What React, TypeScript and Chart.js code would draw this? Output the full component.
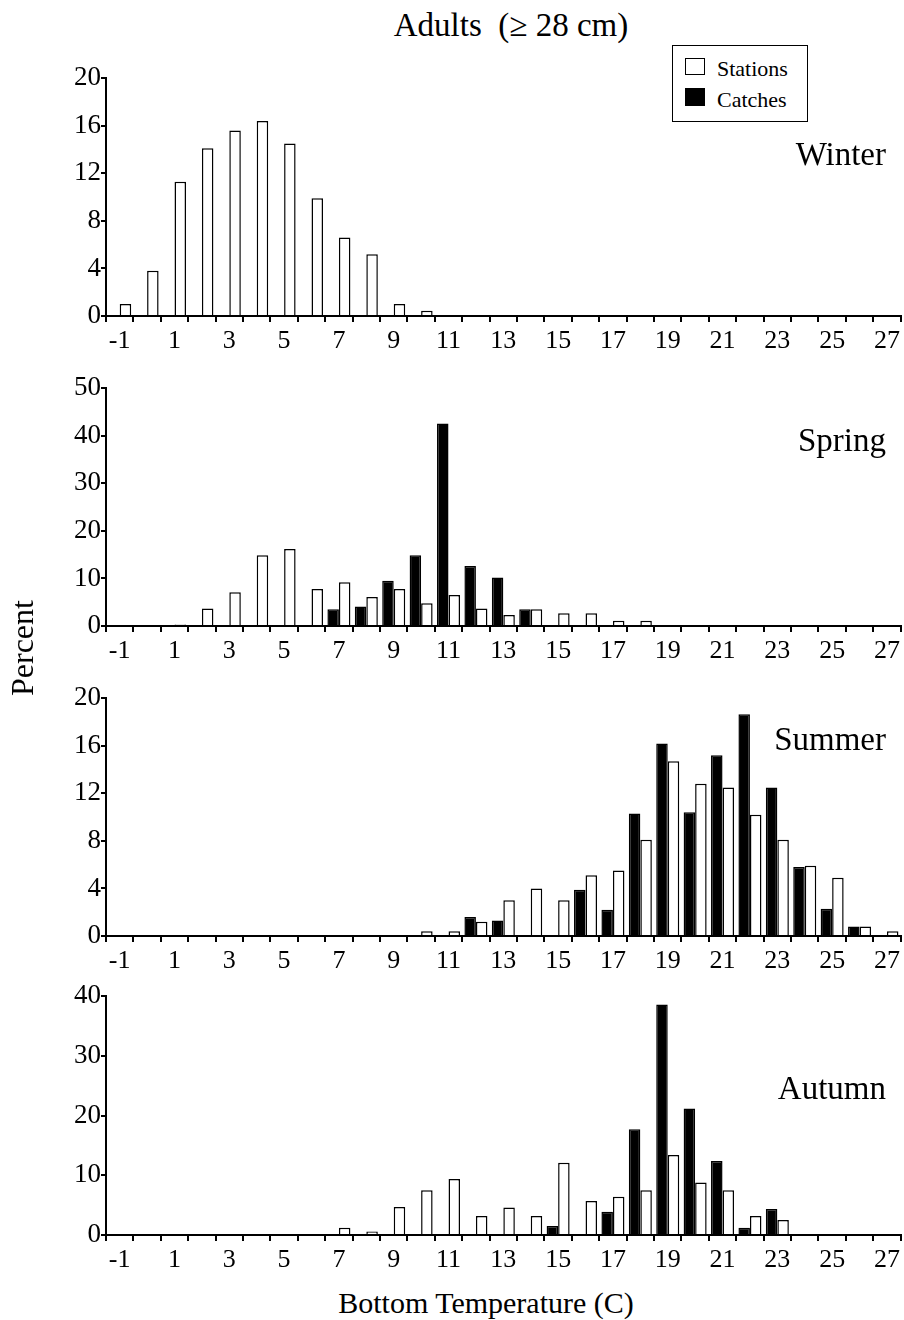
import React, { useEffect, useRef } from "react";
import { Chart, registerables } from "chart.js";

Chart.register(...registerables);

const temperatures = [
  "-1", "0", "1", "2", "3", "4", "5", "6", "7", "8", "9", "10", "11", "12", "13",
  "14", "15", "16", "17", "18", "19", "20", "21", "22", "23", "24", "25", "26", "27",
];

const winterStations = [1.0, 3.8, 11.3, 14.1, 15.6, 16.4, 14.5, 9.9, 6.6, 5.2, 1.0, 0.45, 0, 0, 0, 0, 0, 0, 0, 0, 0, 0, 0, 0, 0, 0, 0, 0, 0];
const winterCatches = [0, 0, 0, 0, 0, 0, 0, 0, 0, 0, 0, 0, 0, 0, 0, 0, 0, 0, 0, 0, 0, 0, 0, 0, 0, 0, 0, 0, 0];

const springStations = [0, 0, 0.3, 3.7, 7.1, 14.9, 16.2, 7.8, 9.2, 6.1, 7.8, 4.8, 6.5, 3.7, 2.3, 3.5, 2.7, 2.7, 1.1, 1.1, 0, 0, 0, 0, 0, 0, 0, 0, 0];
const springCatches = [0, 0, 0, 0, 0, 0, 0, 0, 3.5, 4.1, 9.5, 14.9, 42.6, 12.6, 10.2, 3.5, 0, 0, 0, 0, 0, 0, 0, 0, 0, 0, 0, 0, 0];

const summerStations = [0, 0, 0, 0, 0, 0, 0, 0, 0, 0, 0, 0.4, 0.4, 1.2, 3.0, 4.0, 3.0, 5.1, 5.5, 8.1, 14.7, 12.8, 12.5, 10.2, 8.1, 5.9, 4.9, 0.8, 0.4];
const summerCatches = [0, 0, 0, 0, 0, 0, 0, 0, 0, 0, 0, 0, 0, 1.6, 1.3, 0, 0, 3.9, 2.2, 10.3, 16.2, 10.4, 15.2, 18.65, 12.5, 5.8, 2.3, 0.8, 0];

const autumnStations = [0, 0, 0, 0, 0, 0, 0, 0, 1.2, 0.6, 4.7, 7.5, 9.4, 3.2, 4.6, 3.2, 12.1, 5.7, 6.4, 7.5, 13.4, 8.8, 7.5, 3.2, 2.5, 0, 0, 0, 0];
const autumnCatches = [0, 0, 0, 0, 0, 0, 0, 0, 0, 0, 0, 0, 0, 0, 0, 0, 1.5, 0, 3.9, 17.7, 38.6, 21.2, 12.4, 1.2, 4.35, 0, 0, 0, 0];

const FONT = "'Liberation Serif', 'Times New Roman', serif";
const PAGE_W = 904;
const PLOT_LEFT = 106;
const PLOT_RIGHT = 901;
const PAD_TOP = 16;
const X_AXIS_H = 50;

type PanelProps = {
  stations: number[];
  catches: number[];
  yMax: number;
  yStep: number;
  plotTop: number;
  plotBottom: number;
};

function Panel({ stations, catches, yMax, yStep, plotTop, plotBottom }: PanelProps) {
  const ref = useRef<HTMLCanvasElement | null>(null);
  const height = PAD_TOP + (plotBottom - plotTop) + X_AXIS_H;

  useEffect(() => {
    if (!ref.current) return;
    const chart = new Chart(ref.current, {
      type: "bar",
      data: {
        labels: temperatures,
        datasets: [
          {
            label: "Catches",
            data: catches,
            backgroundColor: "#000",
            borderColor: "#000",
            borderWidth: 1.5,
            categoryPercentage: 0.84,
            barPercentage: 1.0,
          },
          {
            label: "Stations",
            data: stations,
            backgroundColor: "#fff",
            borderColor: "#000",
            borderWidth: 1.5,
            categoryPercentage: 0.84,
            barPercentage: 1.0,
          },
        ],
      },
      options: {
        animation: false,
        responsive: false,
        maintainAspectRatio: false,
        layout: { padding: { top: PAD_TOP, right: PAGE_W - PLOT_RIGHT, left: 0, bottom: 0 } },
        plugins: { legend: { display: false }, tooltip: { enabled: false }, title: { display: false } },
        scales: {
          x: {
            type: "category",
            offset: true,
            grid: {
              offset: true,
              drawOnChartArea: false,
              drawTicks: true,
              tickLength: 6,
              color: "#000",
              lineWidth: 2,
            },
            border: { display: true, color: "#000", width: 2 },
            ticks: {
              color: "#000",
              font: { family: FONT, size: 26 },
              autoSkip: false,
              maxRotation: 0,
              minRotation: 0,
              padding: 4,
              callback: (_v: any, i: number) => (i % 2 === 0 ? temperatures[i] : ""),
            },
            afterFit: (scale: any) => {
              scale.height = X_AXIS_H;
            },
          },
          y: {
            min: 0,
            max: yMax,
            grid: {
              drawOnChartArea: false,
              drawTicks: true,
              tickLength: 5,
              color: "#000",
              lineWidth: 2,
            },
            border: { display: true, color: "#000", width: 2 },
            ticks: {
              stepSize: yStep,
              color: "#000",
              font: { family: FONT, size: 27 },
              padding: 0,
            },
            afterFit: (scale: any) => {
              scale.width = PLOT_LEFT;
            },
          },
        },
      },
    } as any);
    return () => chart.destroy();
  }, []);

  return (
    <canvas
      ref={ref}
      width={PAGE_W}
      height={height}
      style={{ position: "absolute", left: 0, top: plotTop - PAD_TOP, width: PAGE_W, height }}
    />
  );
}

const textBase: React.CSSProperties = {
  position: "absolute",
  fontFamily: FONT,
  color: "#000",
  whiteSpace: "nowrap",
  lineHeight: 1,
};

function SeasonLabel({ text, baseline }: { text: string; baseline: number }) {
  const fs = 33;
  return (
    <div style={{ ...textBase, fontSize: fs, right: PAGE_W - 886, top: baseline - 0.8375 * fs, zIndex: 2 }}>
      {text}
    </div>
  );
}

export default function App() {
  return (
    <div style={{ position: "absolute", left: 0, top: 0, width: PAGE_W, height: 1320, background: "#fff" }}>
      <Panel stations={winterStations} catches={winterCatches} yMax={20} yStep={4} plotTop={78} plotBottom={316} />
      <Panel stations={springStations} catches={springCatches} yMax={50} yStep={10} plotTop={388} plotBottom={626} />
      <Panel stations={summerStations} catches={summerCatches} yMax={20} yStep={4} plotTop={698} plotBottom={936} />
      <Panel stations={autumnStations} catches={autumnCatches} yMax={40} yStep={10} plotTop={996} plotBottom={1235} />

      <div style={{ ...textBase, fontSize: 33, left: 511, top: 37 - 0.8375 * 33, transform: "translateX(-50%)", zIndex: 2 }}>
        Adults&nbsp;&nbsp;(≥ 28 cm)
      </div>

      <div
        style={{
          position: "absolute",
          left: 672,
          top: 45,
          width: 136,
          height: 77,
          boxSizing: "border-box",
          border: "1.5px solid #000",
          background: "#fff",
          zIndex: 3,
        }}
      >
        <div style={{ position: "absolute", left: 12, top: 12, width: 20, height: 17, boxSizing: "border-box", border: "1.5px solid #000", background: "#fff" }} />
        <div style={{ ...textBase, fontSize: 22, left: 44, top: 30 - 0.8375 * 22 }}>Stations</div>
        <div style={{ position: "absolute", left: 12, top: 42, width: 20, height: 18, background: "#000" }} />
        <div style={{ ...textBase, fontSize: 22, left: 44, top: 61 - 0.8375 * 22 }}>Catches</div>
      </div>

      <SeasonLabel text="Winter" baseline={166} />
      <SeasonLabel text="Spring" baseline={452} />
      <SeasonLabel text="Summer" baseline={751} />
      <SeasonLabel text="Autumn" baseline={1100} />

      <div
        style={{
          ...textBase,
          fontSize: 32,
          left: 22,
          top: 648,
          transform: "translate(-50%, -50%) rotate(-90deg)",
          zIndex: 2,
        }}
      >
        Percent
      </div>

      <div style={{ ...textBase, fontSize: 30, left: 486, top: 1313 - 0.8375 * 30, transform: "translateX(-50%)", zIndex: 2 }}>
        Bottom Temperature (C)
      </div>
    </div>
  );
}
